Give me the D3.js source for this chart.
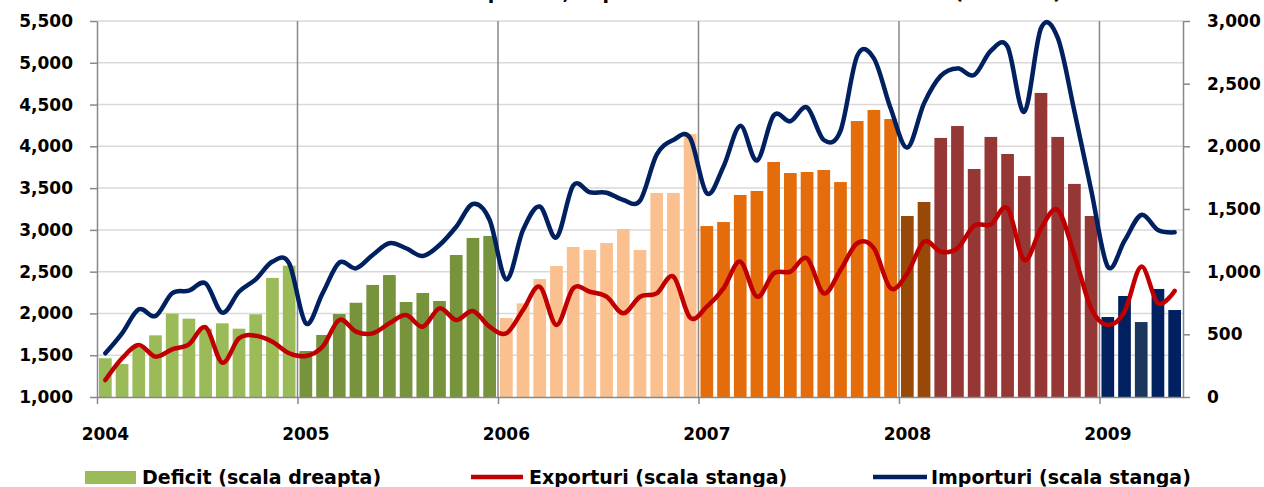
<!DOCTYPE html>
<html lang="en">
<head>
<meta charset="UTF-8">
<title>Deficit, exporturi si importuri</title>
<script src="https://cdn.jsdelivr.net/npm/d3@7"></script>
<style>
  body { margin: 0; background: #fff; }
  svg text { font-family: "DejaVu Sans", Verdana, sans-serif; font-weight: bold; fill: #000; }
</style>
</head>
<body>
<script>
// Years on the x axis (one label per year, monthly data Jan 2004 - May 2009)
var years = [2004, 2005, 2006, 2007, 2008, 2009];

// Monthly trade deficit (right axis)
var deficit = [
  309, 263, 395, 492, 665, 625, 545, 588, 545, 660, 950, 1048,
  367, 495, 662, 752, 894, 973, 758, 830, 766, 1133, 1269, 1285,
  630, 747, 941, 1045, 1197, 1173, 1229, 1340, 1173, 1628, 1628, 2098,
  1364, 1396, 1612, 1644, 1875, 1787, 1795, 1811, 1715, 2202, 2290, 2218,
  1444, 1556, 2067, 2162, 1819, 2075, 1939, 1763, 2426, 2075, 1700, 1444,
  638, 806, 598, 862, 694
];

// Monthly exports (left axis)
var exportsVals = [
  1203, 1463, 1622, 1483, 1571, 1631, 1834, 1411, 1702, 1734, 1662, 1523,
  1491, 1602, 1922, 1782, 1762, 1882, 1981, 1841, 2061, 1922, 2029, 1841,
  1762, 2041, 2320, 1862, 2301, 2260, 2200, 2002, 2200, 2241, 2440, 1950,
  2081, 2301, 2620, 2200, 2480, 2500, 2660, 2241, 2520, 2840, 2780, 2301,
  2480, 2859, 2739, 2780, 3050, 3066, 3258, 2640, 3018, 3238, 2700, 2061,
  1862, 2021, 2560, 2121, 2269
];

// Monthly imports (left axis)
var importsVals = [
  1523, 1762, 2049, 1969, 2241, 2272, 2360, 2009, 2260, 2408, 2620, 2600,
  1882, 2241, 2608, 2540, 2700, 2840, 2780, 2688, 2819, 3038, 3310, 3118,
  2408, 3000, 3280, 2910, 3530, 3450, 3445, 3358, 3350, 3900, 4076, 4100,
  3438, 3760, 4245, 3830, 4370, 4300, 4465, 4076, 4185, 5083, 5053, 4455,
  3986, 4514, 4843, 4933, 4854, 5143, 5193, 4414, 5413, 5300, 4420, 3480,
  2560, 2870, 3178, 2999, 2971
];

var leftTicks = [1000, 1500, 2000, 2500, 3000, 3500, 4000, 4500, 5000, 5500];
var rightTicks = [0, 500, 1000, 1500, 2000, 2500, 3000];
var legendLabels = ["Deficit (scala dreapta)", "Exporturi (scala stanga)", "Importuri (scala stanga)"];
var titleText = "Comertul exterior: exporturi, importuri si deficit comercial lunar (mil. EUR)";

// Size of the figure and plot area
var w = 1264;
var h = 487;
var plotL = 97, plotR = 1183, plotT = 21, plotB = 397;

var svg = d3.select("body").append("svg")
  .attr("width", w)
  .attr("height", h);

// Scales
var x = d3.scaleBand()
  .domain(d3.range(deficit.length))
  .range([plotL, plotR])
  .paddingInner(0.24)
  .paddingOuter(0.12);
var xm = d3.scaleLinear().domain([0, deficit.length]).range([plotL, plotR]);
var yL = d3.scaleLinear().domain([1000, 5500]).range([plotB, plotT]);
var yR = d3.scaleLinear().domain([0, 3000]).range([plotB, plotT]);

// Bar colour depends on the year (with a few special months)
function barColor(i) {
  if (i >= 48 && i < 50) return "#984807";
  if (i === 62) return "#1C375E";
  return ["#9BBB59", "#77933C", "#FAC090", "#E46C0A", "#953735", "#002060"][Math.floor(i / 12)];
}

// Title (mostly above the picture)
svg.append("text")
  .attr("x", 660)
  .attr("y", -1)
  .attr("text-anchor", "middle")
  .style("font-size", "19px")
  .text(titleText);

// Horizontal gridlines
svg.append("g").selectAll("line")
  .data(leftTicks.slice(1))
  .enter().append("line")
  .attr("x1", plotL).attr("x2", plotR)
  .attr("y1", function(d) { return yL(d); })
  .attr("y2", function(d) { return yL(d); })
  .attr("stroke", "#D9D9D9")
  .attr("stroke-width", 1.5);

// Vertical year separators
svg.append("g").selectAll("line")
  .data(years.slice(1))
  .enter().append("line")
  .attr("x1", function(d, i) { return xm((i + 1) * 12); })
  .attr("x2", function(d, i) { return xm((i + 1) * 12); })
  .attr("y1", plotT).attr("y2", plotB)
  .attr("stroke", "#888888")
  .attr("stroke-width", 1.5);

// Deficit bars
svg.append("g").selectAll("rect")
  .data(deficit)
  .enter().append("rect")
  .attr("x", function(d, i) { return x(i); })
  .attr("y", function(d) { return yR(d); })
  .attr("width", x.bandwidth())
  .attr("height", function(d) { return plotB - yR(d); })
  .attr("fill", function(d, i) { return barColor(i); });

// Smoothed lines
var lineL = d3.line()
  .x(function(d, i) { return x(i) + x.bandwidth() / 2; })
  .y(function(d) { return yL(d); })
  .curve(d3.curveCatmullRom.alpha(0));

svg.append("path")
  .attr("d", lineL(exportsVals))
  .attr("fill", "none")
  .attr("stroke", "#C00000")
  .attr("stroke-width", 4.5)
  .attr("stroke-linecap", "round");

svg.append("path")
  .attr("d", lineL(importsVals))
  .attr("fill", "none")
  .attr("stroke", "#002060")
  .attr("stroke-width", 4.5)
  .attr("stroke-linecap", "round");

// Axes
function styleAxis(g) {
  g.selectAll("path, line").attr("stroke", "#888888").attr("stroke-width", 1.5);
  g.selectAll("text").style("font-size", "17px").attr("font-family", null).attr("fill", "#000");
}

svg.append("g")
  .attr("transform", "translate(" + plotL + ",0)")
  .call(d3.axisLeft(yL).tickValues(leftTicks).tickFormat(d3.format(",")).tickSize(7).tickSizeOuter(0).tickPadding(17))
  .call(styleAxis);

svg.append("g")
  .attr("transform", "translate(" + plotR + ",0)")
  .call(d3.axisRight(yR).tickValues(rightTicks).tickFormat(d3.format(",")).tickSize(7).tickSizeOuter(0).tickPadding(17))
  .call(styleAxis);

svg.append("g")
  .attr("transform", "translate(0," + plotB + ")")
  .call(d3.axisBottom(xm).tickValues(d3.range(0, deficit.length, 12)).tickFormat("").tickSize(7).tickSizeOuter(0))
  .call(styleAxis);

// Year labels under the first month of each year
svg.append("g").selectAll("text")
  .data(years)
  .enter().append("text")
  .attr("x", function(d, i) { return x(i * 12) + x.bandwidth() / 2; })
  .attr("y", 440)
  .attr("text-anchor", "middle")
  .style("font-size", "17px")
  .text(function(d) { return d; });

// Legend
var legend = svg.append("g");
legend.append("rect")
  .attr("x", 85).attr("y", 471)
  .attr("width", 51).attr("height", 13)
  .attr("fill", "#9BBB59");
legend.append("line")
  .attr("x1", 471).attr("x2", 523).attr("y1", 477).attr("y2", 477)
  .attr("stroke", "#C00000").attr("stroke-width", 4.5);
legend.append("line")
  .attr("x1", 873).attr("x2", 927).attr("y1", 477).attr("y2", 477)
  .attr("stroke", "#002060").attr("stroke-width", 4.5);
legend.selectAll("text")
  .data(legendLabels)
  .enter().append("text")
  .attr("x", function(d, i) { return [142, 529, 931][i]; })
  .attr("y", 484)
  .style("font-size", "19px")
  .text(function(d) { return d; });
</script>
</body>
</html>
